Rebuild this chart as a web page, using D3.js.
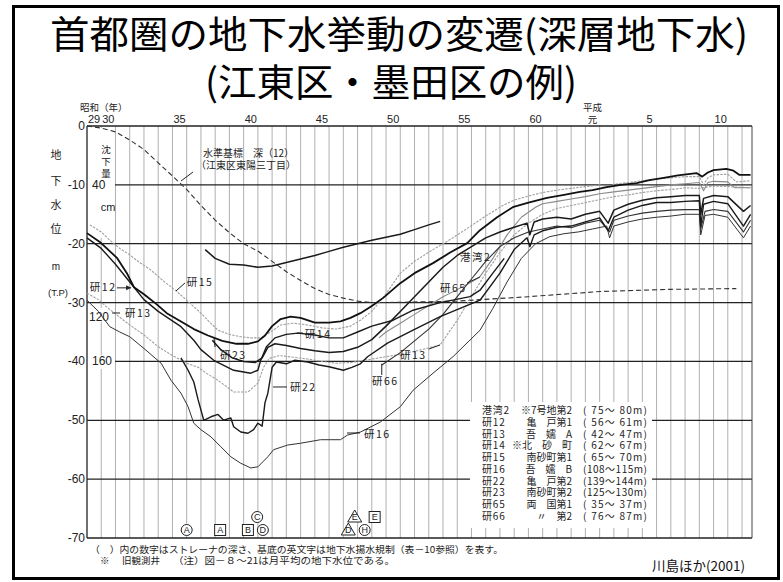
<!DOCTYPE html>
<html><head><meta charset="utf-8">
<script src="https://cdn.jsdelivr.net/npm/d3@7"></script>
<style>body{margin:0;background:#fff}svg{display:block}</style>
</head><body>
<svg id="c" width="783" height="582"></svg>
<script>
// ---- data: groundwater level (m, T.P.) by decimal year ----
const kowan2 = [[1962.3,-21],[1963,-22.5],[1964,-23.5],[1965,-23.6],[1966,-24],[1967,-23.8],[1968,-23.2],[1969,-22.6],[1970,-22],[1971,-21.3],[1972,-20.6],[1973,-20],[1974,-19.4],[1975,-18.9],[1976,-18.4],[1977,-17.6],[1978,-16.8],[1978.8,-16.2]];
const ken12 = [[1954,-18.2],[1954.9,-19.7],[1956.1,-22.4],[1956.8,-25],[1957.3,-27.4],[1958,-28.6],[1958.9,-30.3],[1959.6,-31.8],[1960.6,-33.2],[1961.5,-34.5],[1962.5,-35.6],[1963.5,-36.5],[1964.5,-37],[1965.3,-37],[1966,-36.6],[1966.5,-35.6],[1967,-34],[1967.6,-32.8],[1968.3,-32.4],[1969,-32.6],[1970,-33.4],[1971,-33.4],[1971.8,-33.2],[1972.5,-32.6],[1973.2,-31.8],[1974,-30.6],[1974.8,-29.2],[1976,-26.7],[1977,-25],[1978.3,-23.3],[1979.5,-21.5],[1980.7,-19.9],[1981.6,-17.7],[1982.8,-15.5],[1983.9,-13.8],[1985,-13],[1986.3,-12.2],[1987.5,-11.7],[1988.6,-11.2],[1989.5,-10.9],[1990.5,-10.4],[1991.5,-10],[1992.6,-9.7],[1993.5,-9.2],[1994.5,-8.8],[1995.5,-8.4],[1996.8,-8],[1997.2,-8.6],[1997.6,-7.9],[1998,-7.5],[1998.9,-7.3],[1999.4,-7.6],[1999.8,-8.3],[2000.6,-8.3]];
const ken13 = [[1954,-28.4],[1954.8,-29.5],[1955.5,-31],[1956.3,-32.5],[1957,-33.8],[1958,-35.5],[1959,-37.5],[1960,-39],[1961,-40.3],[1961.8,-41],[1962.5,-42.2],[1963.2,-43.2],[1964.3,-45.2],[1965.3,-45.2],[1966,-43.7],[1966.4,-41],[1966.8,-39.5],[1967.5,-39],[1968.5,-39.3],[1969.5,-39.6],[1970.5,-40],[1971.5,-40.3],[1972.5,-40.2],[1973.5,-39.8],[1974.5,-39.4],[1976,-38.8],[1977.5,-38],[1978.8,-37.2],[1980,-33],[1981,-29],[1982,-25],[1983,-21.5],[1984,-18.5],[1985,-16.5],[1986,-15],[1987,-14],[1988,-13.5],[1989,-13],[1990,-12.5],[1991,-12],[1992,-11.7],[1993,-11.3],[1994,-11],[1995,-10.8],[1996,-10.5],[1997,-10.6],[1998,-10.2],[1999,-10.3],[2000.6,-10.5]];
const ken14 = [[1954,-19],[1955,-20.8],[1956,-23.5],[1957,-26.5],[1958,-29.5],[1959,-31.5],[1960.6,-34.1],[1961.5,-36.4],[1962,-38],[1962.9,-39.8],[1964.3,-41.5],[1965.5,-42],[1966,-41.5],[1966.2,-39.8],[1966.6,-37.5],[1967.2,-36],[1968,-35.4],[1968.8,-35.2],[1970,-35.5],[1971,-36],[1972,-36],[1973,-35],[1974,-34],[1975.5,-33],[1976.9,-31.3],[1978.8,-30],[1980.9,-29],[1981.6,-27.9],[1982.5,-25],[1983.3,-22.5]];
const ken15 = [[1954.2,-16.8],[1955,-18],[1955.6,-19.4],[1956.3,-20.8],[1957,-21.9],[1957.7,-23.2],[1958.5,-24.5],[1959.3,-26.2],[1960.2,-27.9],[1961,-29.6],[1962,-31.8],[1962.6,-33.3],[1963.2,-34.7],[1964,-35.4],[1964.8,-35.8],[1965.5,-36],[1966.2,-36],[1966.9,-35],[1967.6,-33.8],[1968.5,-33.5],[1969.5,-33.8],[1970.5,-34.3],[1971.5,-34.5],[1972.5,-34],[1973.2,-33],[1974,-31.5],[1975,-28.5],[1976,-25],[1977,-23],[1978.3,-21],[1979.5,-19.3],[1980.7,-17.4],[1982,-15.3],[1983.2,-13.5],[1984,-12.6],[1985,-11.9],[1986,-11.3],[1987,-10.9],[1988,-10.6],[1989,-10.3],[1990,-10],[1990.6,-10.4],[1991,-9.9],[1992,-9.6],[1993,-9.3],[1994,-9],[1995,-8.8],[1996,-8.6],[1997,-8.6],[1997.3,-10],[1997.6,-8.8],[1998,-8.3],[1999,-8.2],[1999.6,-9.5],[2000.6,-9.3]];
const ken16 = [[1954,-29.6],[1954.8,-31.5],[1955.6,-34.1],[1956.3,-35],[1957,-35.8],[1958,-37.8],[1959.2,-40.3],[1959.9,-43.2],[1960.6,-45.4],[1961.1,-47.7],[1961.5,-50.5],[1962,-51.6],[1962.7,-52.8],[1963.4,-54.5],[1964.1,-56.2],[1964.8,-57.3],[1965.5,-58.1],[1966,-57.9],[1966.7,-56.2],[1967.1,-55],[1968.1,-54.2],[1969,-53.9],[1970.4,-53.3],[1971.8,-53.3],[1972.3,-52.5],[1973.2,-52],[1974.6,-50.3],[1976,-47.7],[1976.9,-44.9],[1978.3,-42],[1979.7,-39.2],[1981.6,-34.7],[1982.5,-31],[1983.5,-26.5],[1984.5,-22.5],[1985.5,-20],[1986.5,-18.8],[1987.5,-18.3],[1988.5,-18],[1989.5,-17.5],[1990.5,-17],[1990.7,-19],[1991,-17],[1992,-16.3],[1993,-15.8],[1994,-15.5],[1995,-15.3],[1996,-15],[1997,-15],[1997.1,-18.5],[1997.4,-15.2],[1998,-15],[1999,-15.5],[2000.1,-19],[2000.6,-17]];
const ken22 = [[1960.6,-39.4],[1961.1,-41.5],[1961.5,-43.5],[1961.8,-46.5],[1962.2,-50],[1962.7,-49.4],[1963.2,-49],[1963.6,-50],[1964.1,-49.6],[1964.3,-51.1],[1964.8,-52],[1965.3,-52.2],[1965.7,-51.6],[1966,-50.5],[1966.3,-51],[1966.5,-47],[1966.7,-45.4],[1967,-41],[1967.3,-40.1],[1968,-40.4],[1968.6,-39.8],[1969.5,-40.1],[1970.3,-40.6],[1971,-40.9],[1972,-41.5],[1972.6,-41],[1973.2,-40.4],[1973.7,-39.2],[1975.1,-36.9],[1976.9,-34.7],[1978.8,-32.4],[1981.6,-29.6],[1983,-25],[1984,-21],[1984.9,-19],[1985.1,-20.5],[1985.4,-18.5],[1986,-17.8],[1987,-17.2],[1988,-17],[1989,-16.3],[1990,-15.6],[1990.6,-17.8],[1991,-15.5],[1992,-14.3],[1993,-13.5],[1994,-13],[1995,-13],[1996,-12.8],[1997,-12.7],[1997.1,-17],[1997.3,-13.3],[1998,-12.8],[1999,-13.2],[2000.1,-17],[2000.6,-15]];
const ken23 = [[1962.8,-36.4],[1963.4,-38],[1964.2,-39.4],[1965,-40],[1965.8,-40.2],[1966.3,-39.4],[1966.7,-37.6],[1967.2,-37],[1968,-37.3],[1969,-37.8],[1970,-38.2],[1971,-38.5],[1972,-38.3],[1973,-37.6],[1974,-36.3],[1975,-34],[1976,-31.5],[1977,-29],[1978,-26.5],[1979,-24],[1980,-22],[1981,-20.5],[1982,-19],[1983,-18],[1984,-17.2],[1984.9,-16.5],[1985.1,-18.5],[1985.4,-16.3],[1986,-15.8],[1987,-15.5],[1988,-15.8],[1989,-15],[1990,-14.5],[1990.6,-16.5],[1991,-14.3],[1992,-13.3],[1993,-12.6],[1994,-12.2],[1995,-12],[1996,-11.8],[1997,-11.8],[1997.1,-15],[1997.3,-12.3],[1998,-11.8],[1999,-12],[2000.1,-14.5],[2000.6,-13.5]];
const ken65 = [[1974.5,-36],[1975,-35],[1976,-33.5],[1977,-32],[1978,-30.5],[1979,-29],[1980,-27.8],[1981,-26.5],[1981.6,-25.6],[1982.5,-22.5],[1983.5,-18.5],[1984.5,-15.5],[1985.5,-13.8],[1986,-13.2],[1987,-12.8],[1988,-12.4],[1989,-12],[1990,-11.5],[1991,-11.2],[1992,-10.9],[1993,-10.6],[1994,-10.3],[1995,-10],[1996,-9.8],[1997,-9.6],[1997.3,-11],[1997.6,-9.6],[1998,-9.4],[1999,-9.5],[1999.5,-10.5],[2000.6,-10.5]];
const ken66 = [[1974.7,-40.6],[1976,-38.5],[1977,-36.5],[1978,-34.5],[1979,-32],[1980,-29],[1981,-26],[1982,-23],[1983,-20.5],[1984,-19],[1985,-18],[1986,-17.5],[1987,-17],[1988,-17.3],[1989,-16.5],[1990,-16],[1990.7,-18],[1991,-16],[1992,-15.3],[1993,-14.8],[1994,-14.5],[1995,-14.3],[1996,-14.2],[1997,-14.2],[1997.1,-17.5],[1997.4,-14.5],[1998,-14.2],[1999,-14.5],[2000.1,-18],[2000.6,-16]];
// cumulative land subsidence at bench mark (cm)
const subsidence = [[1954,0],[1955,1.4],[1956,4],[1957,9.5],[1958,16],[1959,25],[1960,34],[1961,43],[1962,54],[1963,64],[1964,72.5],[1965,80],[1966,85],[1967,92],[1968,99],[1969,105],[1970,110.5],[1971,114.5],[1972,117],[1973,119],[1974,120],[1975,120],[1980,119],[1985,116],[1990,112.5],[1995,111],[1999.6,110.5]];

// ---- axis labels ----
const levelTicks = [0,-10,-20,-30,-40,-50,-60,-70];
const subTicks = [40,120,160];
const showaTicks = [[1954.5,'29'],[1955.5,'30'],[1960.5,'35'],[1965.5,'40'],[1970.5,'45'],[1975.5,'50'],[1980.5,'55'],[1985.5,'60']];
const heiseiTicks = [[1989.5,'元'],[1993.5,'5'],[1998.5,'10']];
const gridYears = d3.range(1955, 2001);

// ---- legend ----
const legendCodes = ['港湾2','研12','研13','研14','研15','研16','研22','研23','研65','研66'];
const legendSites = ['※7号地第2','亀　戸第1','吾　嬬　A','※北　砂　町','南砂町第1','吾　嬬　B','亀　戸第2','南砂町第2','両　国第1','〃　第2'];
const legendDepths = ['( 75〜 80m)','( 56〜 61m)','( 42〜 47m)','( 62〜 67m)','( 65〜 70m)','(108〜115m)','(139〜144m)','(125〜130m)','( 35〜 37m)','( 76〜 87m)'];

// ---- pumping regulation marks: [year, row, shape, letter] ----
const regMarks = [[1961.0,0,'circle','A'],[1963.35,0,'square','A'],[1965.3,0,'square','B'],[1966.35,0,'circle','D'],[1965.95,1,'circle','C'],[1972.35,0,'triangle','D'],[1973.5,0,'circle','H'],[1972.8,1,'triangle','E'],[1974.2,1,'square','E']];

const svg = d3.select('#c');
const JP = '"Noto Sans CJK JP","Noto Sans",sans-serif';
const NUM = '"Liberation Sans",Arial,sans-serif';

const x = d3.scaleLinear().domain([1954, 2000.7]).range([87, 752]);
const y = d3.scaleLinear().domain([0, -70]).range([126, 538]);
const ySub = d3.scaleLinear().domain([0, 160]).range([y(0), y(-40)]);

svg.append('rect').attr('width',783).attr('height',582).attr('fill','#fff');

// slide frame
svg.append('rect').attr('x',13.5).attr('y',6.5).attr('width',765).attr('height',572)
  .attr('fill','none').attr('stroke','#000').attr('stroke-width',3);

// title
svg.append('text').attr('x',50).attr('y',48).attr('font-family',JP).attr('font-size',38)
  .attr('textLength',698).attr('lengthAdjust','spacingAndGlyphs').text('首都圏の地下水挙動の変遷(深層地下水)');
svg.append('text').attr('x',205).attr('y',96).attr('font-family',JP).attr('font-size',38)
  .attr('textLength',372).attr('lengthAdjust','spacingAndGlyphs').text('(江東区・墨田区の例)');

// vertical year grid
const g = svg.append('g');
g.selectAll('line.v').data(gridYears).join('line')
  .attr('x1',d=>x(d)).attr('x2',d=>x(d)).attr('y1',y(0)).attr('y2',y(-70))
  .attr('stroke','#9c9c9c').attr('stroke-width',0.8);

// horizontal level grid
g.selectAll('line.h').data(levelTicks).join('line')
  .attr('x1',d=>(d===-10||d===-40)?115:87).attr('x2',752)
  .attr('y1',d=>y(d)).attr('y2',d=>y(d))
  .attr('stroke','#222').attr('stroke-width',d=>(d===0||d===-70)?1.5:1.2);
g.append('line').attr('x1',87).attr('x2',87).attr('y1',y(0)).attr('y2',y(-70)).attr('stroke','#222').attr('stroke-width',1.3);
g.append('line').attr('x1',752).attr('x2',752).attr('y1',y(0)).attr('y2',y(-70)).attr('stroke','#444').attr('stroke-width',1);

// white patches behind left inner labels
g.append('rect').attr('x',89).attr('y',128).attr('width',25).attr('height',110).attr('fill','#fff');
g.append('rect').attr('x',89).attr('y',308).attr('width',20).attr('height',14).attr('fill','#fff');
g.append('rect').attr('x',89).attr('y',355).attr('width',22).attr('height',14).attr('fill','#fff');

// legend box
svg.append('rect').attr('x',470).attr('y',402).attr('width',182).attr('height',126).attr('fill','#fff');
const lg = svg.append('g').attr('font-family',JP).attr('font-size',10).attr('fill','#222');
legendCodes.forEach((c,i)=>{
  const yy = 414 + i*11.78;
  lg.append('text').attr('x',482).attr('y',yy).attr('letter-spacing',0.8).text(c);
  lg.append('text').attr('x',572).attr('y',yy).attr('text-anchor','end').text(legendSites[i]);
  lg.append('text').attr('x',583).attr('y',yy).attr('textLength',64).attr('lengthAdjust','spacing')
    .style('white-space','pre').text(legendDepths[i]);
});

// axis texts
const at = svg.append('g').attr('fill','#222');
at.selectAll('text.lv').data(levelTicks).join('text')
  .attr('x',85).attr('y',d=>y(d)+4).attr('text-anchor','end')
  .attr('font-family',NUM).attr('font-size',12).text(d=>d===0?'0':'-'+(-d));
at.selectAll('text.sb').data(subTicks).join('text')
  .attr('x',d=>d===120?89:92).attr('y',d=>ySub(d)+(d===120?18:4))
  .attr('font-family',NUM).attr('font-size',12).text(d=>d);
at.selectAll('text.sh').data(showaTicks).join('text')
  .attr('x',d=>x(d[0])).attr('y',123).attr('text-anchor','middle')
  .attr('font-family',NUM).attr('font-size',11).text(d=>d[1]);
at.selectAll('text.hs').data(heiseiTicks).join('text')
  .attr('x',d=>x(d[0])).attr('y',123).attr('text-anchor','middle')
  .attr('font-family',d=>d[1]==='元'?JP:NUM).attr('font-size',d=>d[1]==='元'?9.5:11).text(d=>d[1]);
at.append('text').attr('x',80).attr('y',111).attr('font-family',JP).attr('font-size',9.5).text('昭和（年）');
at.append('text').attr('x',x(1989.5)).attr('y',111).attr('text-anchor','middle').attr('font-family',JP).attr('font-size',9.5).text('平成');
[['地',155],['下',181],['水',205],['位',229]].forEach(d=>{
  at.append('text').attr('x',56).attr('y',d[1]+4).attr('text-anchor','middle').attr('font-family',JP).attr('font-size',11).text(d[0]);
});
at.append('text').attr('x',56).attr('y',270).attr('text-anchor','middle').attr('font-family',NUM).attr('font-size',10).text('m');
at.append('text').attr('x',58).attr('y',296).attr('text-anchor','middle').attr('font-family',NUM).attr('font-size',9.5).text('(T.P)');
[['沈',149],['下',161],['量',173]].forEach(d=>{
  at.append('text').attr('x',106).attr('y',d[1]+3.5).attr('text-anchor','middle').attr('font-family',JP).attr('font-size',9.5).text(d[0]);
});
at.append('text').attr('x',108).attr('y',211).attr('text-anchor','middle').attr('font-family',NUM).attr('font-size',11).text('cm');

// subsidence curve (dashed)
const subLine = d3.line().x(d=>x(d[0])).y(d=>ySub(d[1]));
svg.append('path').datum(subsidence).attr('d',subLine).attr('fill','none')
  .attr('stroke','#333').attr('stroke-width',1.1).attr('stroke-dasharray','5,3');
const ann = svg.append('g').attr('font-family',JP).attr('font-size',10).attr('fill','#222');
ann.append('text').attr('x',203).attr('y',157).text('水準基標　深（12）');
ann.append('text').attr('x',196).attr('y',169).text('（江東区東陽三丁目）');
svg.append('line').attr('x1',193).attr('y1',172).attr('x2',181).attr('y2',181).attr('stroke','#222').attr('stroke-width',1);

// groundwater level series
const series = [
  {name:'研15', pts:ken15, c:'#a0a0a0', w:1.1, dash:'2.5,1.2'},
  {name:'研13', pts:ken13, c:'#a0a0a0', w:1.1, dash:'2.5,1.2'},
  {name:'研65', pts:ken65, c:'#8a8a8a', w:1.1, dash:null},
  {name:'研16', pts:ken16, c:'#333', w:1.0, dash:null},
  {name:'研66', pts:ken66, c:'#333', w:1.1, dash:null},
  {name:'研14', pts:ken14, c:'#1a1a1a', w:1.4, dash:null},
  {name:'研23', pts:ken23, c:'#1a1a1a', w:1.5, dash:null},
  {name:'研22', pts:ken22, c:'#1a1a1a', w:1.4, dash:null},
  {name:'港湾2', pts:kowan2, c:'#1a1a1a', w:1.5, dash:null},
  {name:'研12', pts:ken12, c:'#111', w:1.8, dash:null}
];
const lvLine = d3.line().x(d=>x(d[0])).y(d=>y(d[1]));
svg.append('g').selectAll('path').data(series).join('path')
  .attr('d',d=>lvLine(d.pts)).attr('fill','none')
  .attr('stroke',d=>d.c).attr('stroke-width',d=>d.w)
  .attr('stroke-dasharray',d=>d.dash).attr('stroke-linejoin','round');

// series labels with leader lines: [text, tx, ty, x1, y1, x2, y2] in data units
const seriesLabels = [
  ['研12',1954.2,-28.0,1956.1,-27.5,1957.1,-27.5],
  ['研13',1956.67,-32.45,1955.76,-31.77,1956.32,-31.77],
  ['研15',1961.0,-27.2,1960.88,-26.67,1960.25,-28.03],
  ['研23',1963.34,-39.6,1962.92,-36.02,1962.99,-37.55],
  ['研14',1969.3,-36.0,1968.75,-35.17,1969.16,-35.17],
  ['研22',1968.26,-45.0,1967.06,-44.34,1968.04,-44.34],
  ['研66',1974.01,-44.0,1974.7,-42.3,1974.7,-40.4],
  ['研13',1975.98,-39.6,1978.0,-37.9,1978.79,-37.2],
  ['研65',1978.79,-28.2,1980.69,-26.67,1981.6,-25.65],
  ['研16',1973.45,-53.0,1972.26,-52.16,1973.17,-52.16],
  ['港湾2',1980.2,-23.0,null,null,null,null]
];
const sl = svg.append('g').attr('font-family',JP).attr('font-size',10.5).attr('fill','#222');
seriesLabels.forEach(d=>{
  sl.append('text').attr('x',x(d[1])).attr('y',y(d[2])).attr('letter-spacing',1.5).text(d[0]);
  if (d[3]!==null) sl.append('line').attr('x1',x(d[3])).attr('y1',y(d[4])).attr('x2',x(d[5])).attr('y2',y(d[6]))
    .attr('stroke','#222').attr('stroke-width',1);
});
// arrow head for the 研12 pointer
sl.append('path').attr('d',`M${x(1957.1)},${y(-27.5)} l-5,-2.5 l0,5 z`).attr('fill','#222');

// regulation marks
const mk = svg.append('g').attr('font-family',NUM).attr('font-size',9).attr('fill','#222');
regMarks.forEach(d=>{
  const cx = x(d[0]), cy = d[1]===0 ? 530 : 517;
  if (d[2]==='circle') mk.append('circle').attr('cx',cx).attr('cy',cy).attr('r',5.5).attr('fill','#fff').attr('stroke','#222');
  if (d[2]==='square') mk.append('rect').attr('x',cx-5.5).attr('y',cy-5.5).attr('width',11).attr('height',11).attr('fill','#fff').attr('stroke','#222');
  if (d[2]==='triangle') mk.append('path').attr('d',`M${cx},${cy-7} L${cx+7},${cy+5} L${cx-7},${cy+5} Z`).attr('fill','#fff').attr('stroke','#222');
  mk.append('text').attr('x',cx).attr('y',cy+3.3).attr('text-anchor','middle').text(d[3]);
});

// notes
const nt = svg.append('g').attr('font-family',JP).attr('font-size',9.5).attr('fill','#222');
nt.append('text').attr('x',90).attr('y',553).attr('textLength',413).attr('lengthAdjust','spacingAndGlyphs')
  .text('（　）内の数字はストレーナの深さ、基底の英文字は地下水揚水規制（表－10参照）を表す。');
nt.append('text').attr('x',100).attr('y',564).text('※');
nt.append('text').attr('x',122).attr('y',564).text('旧観測井');
nt.append('text').attr('x',173).attr('y',564).attr('textLength',222).attr('lengthAdjust','spacingAndGlyphs')
  .text('（注）図－８～21は月平均の地下水位である。');
svg.append('text').attr('x',652).attr('y',571).attr('font-family',JP).attr('font-size',13.5).attr('fill','#111').text('川島ほか(2001)');
</script></body></html>
